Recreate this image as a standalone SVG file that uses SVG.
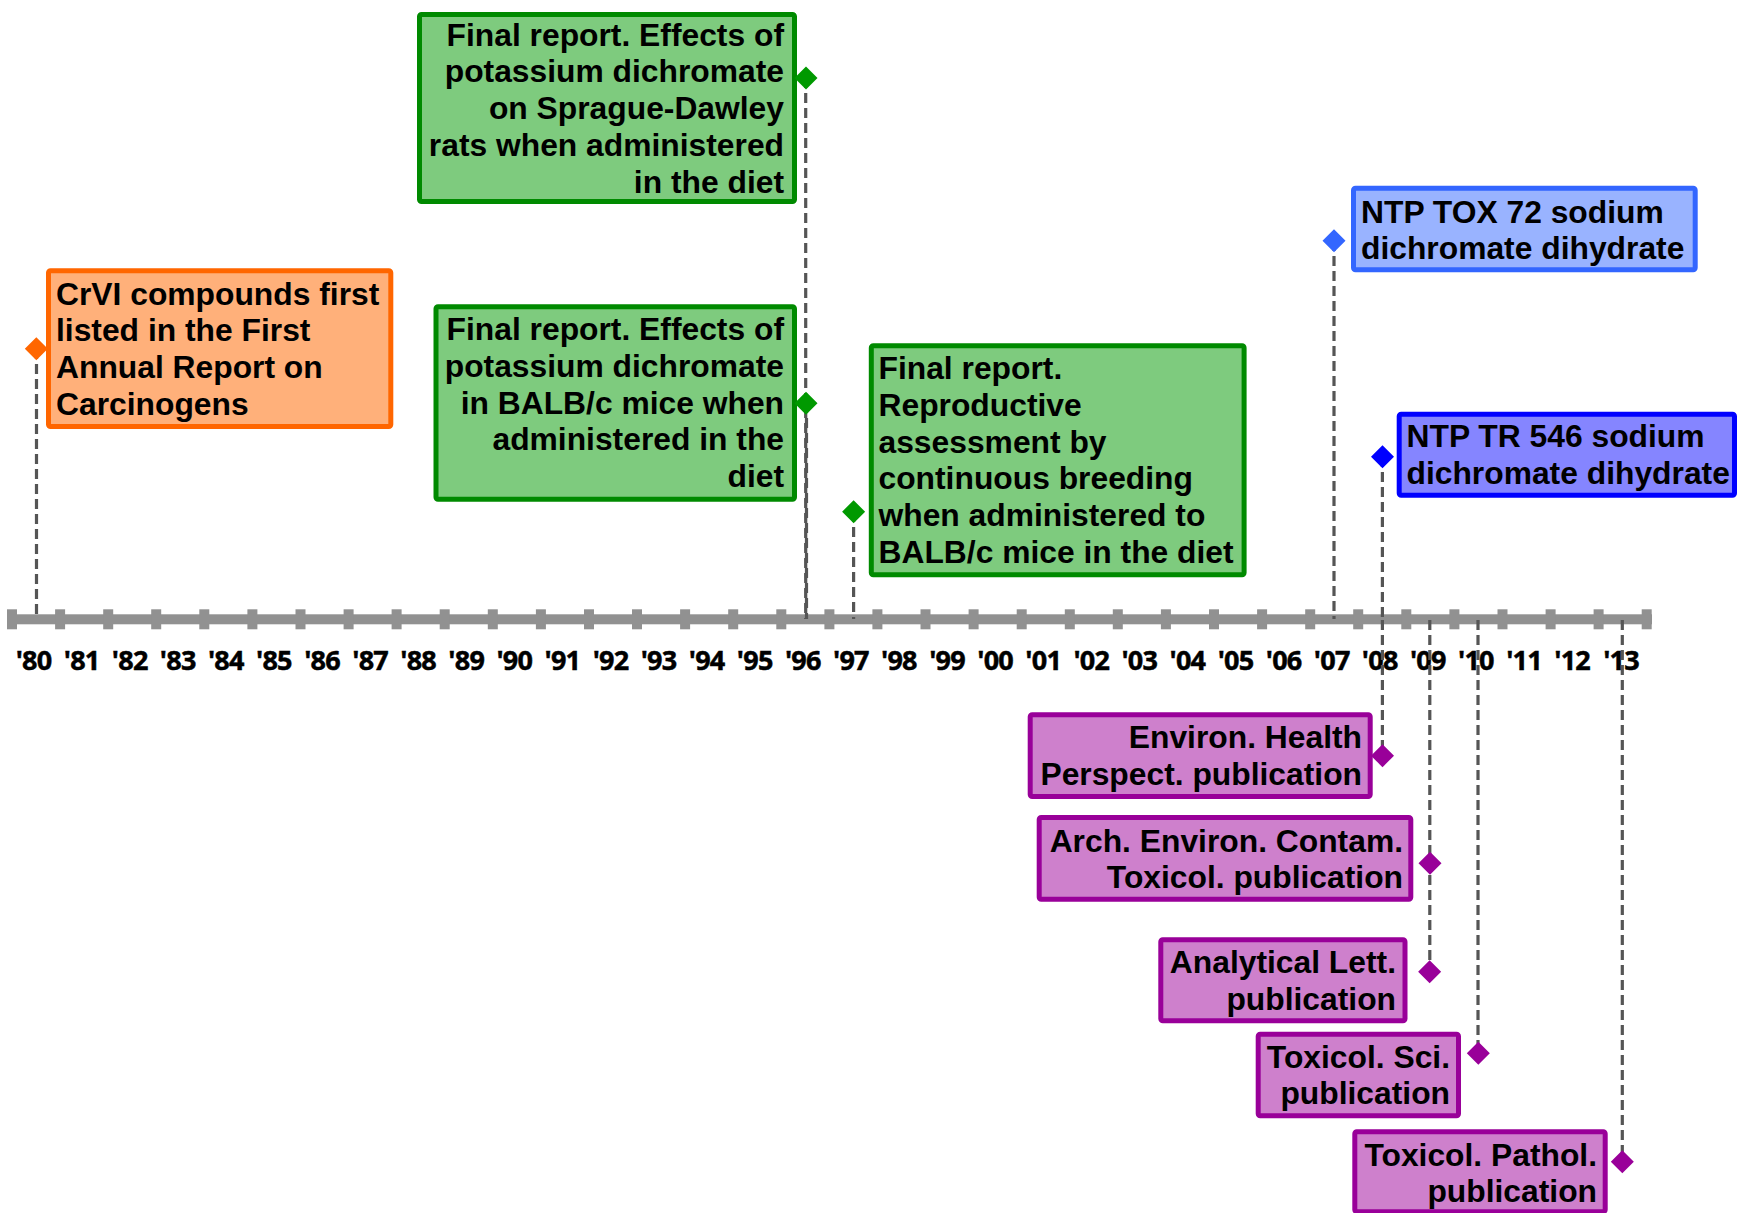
<svg xmlns="http://www.w3.org/2000/svg" width="1738" height="1213" viewBox="0 0 1738 1213">
<style>
.t{font-family:"Liberation Sans",Arial,sans-serif;font-weight:bold;font-size:31.8px;fill:#000}
.e{text-anchor:end}
.yr{font-family:"Open Sans","Liberation Sans",sans-serif;font-weight:bold;font-size:27px;letter-spacing:-0.8px;fill:#000;stroke:#000;stroke-width:0.5;text-anchor:middle}
.box{stroke-width:5}
.or{fill:#FFB07A;stroke:#FF6600}
.gr{fill:#7ECB7E;stroke:#008A00}
.b1{fill:#99B3FF;stroke:#3366FF}
.b2{fill:#8585FF;stroke:#0000FF}
.pu{fill:#CE80CC;stroke:#990099}
.dash{stroke:#555;stroke-width:3.2;stroke-dasharray:10 5;fill:none}
.tk{fill:#919191}
</style>
<defs>
<path id="dm" d="M0,-11.5 L11.5,0 L0,11.5 L-11.5,0Z"/>
</defs>
<rect width="1738" height="1213" fill="#fff"/>
<g id="axis">
<rect class="tk" x="7" y="614.3" width="1645" height="10"/>
<rect class="tk" x="7" y="609.3" width="10" height="20"/><rect class="tk" x="55.1" y="609.3" width="10" height="20"/><rect class="tk" x="103.2" y="609.3" width="10" height="20"/><rect class="tk" x="151.2" y="609.3" width="10" height="20"/><rect class="tk" x="199.3" y="609.3" width="10" height="20"/><rect class="tk" x="247.4" y="609.3" width="10" height="20"/><rect class="tk" x="295.5" y="609.3" width="10" height="20"/><rect class="tk" x="343.6" y="609.3" width="10" height="20"/><rect class="tk" x="391.6" y="609.3" width="10" height="20"/><rect class="tk" x="439.7" y="609.3" width="10" height="20"/><rect class="tk" x="487.8" y="609.3" width="10" height="20"/><rect class="tk" x="535.9" y="609.3" width="10" height="20"/><rect class="tk" x="584" y="609.3" width="10" height="20"/><rect class="tk" x="632" y="609.3" width="10" height="20"/><rect class="tk" x="680.1" y="609.3" width="10" height="20"/><rect class="tk" x="728.2" y="609.3" width="10" height="20"/><rect class="tk" x="776.3" y="609.3" width="10" height="20"/><rect class="tk" x="824.4" y="609.3" width="10" height="20"/><rect class="tk" x="872.4" y="609.3" width="10" height="20"/><rect class="tk" x="920.5" y="609.3" width="10" height="20"/><rect class="tk" x="968.6" y="609.3" width="10" height="20"/><rect class="tk" x="1016.7" y="609.3" width="10" height="20"/><rect class="tk" x="1064.8" y="609.3" width="10" height="20"/><rect class="tk" x="1112.8" y="609.3" width="10" height="20"/><rect class="tk" x="1160.9" y="609.3" width="10" height="20"/><rect class="tk" x="1209" y="609.3" width="10" height="20"/><rect class="tk" x="1257.1" y="609.3" width="10" height="20"/><rect class="tk" x="1305.2" y="609.3" width="10" height="20"/><rect class="tk" x="1353.2" y="609.3" width="10" height="20"/><rect class="tk" x="1401.3" y="609.3" width="10" height="20"/><rect class="tk" x="1449.4" y="609.3" width="10" height="20"/><rect class="tk" x="1497.5" y="609.3" width="10" height="20"/><rect class="tk" x="1545.6" y="609.3" width="10" height="20"/><rect class="tk" x="1593.6" y="609.3" width="10" height="20"/><rect class="tk" x="1641.7" y="609.3" width="10" height="20"/>
</g>
<g id="years">
<text class="yr" x="33.5" y="669.5">'80</text><text class="yr" x="81.6" y="669.5">'81</text><text class="yr" x="129.7" y="669.5">'82</text><text class="yr" x="177.7" y="669.5">'83</text><text class="yr" x="225.8" y="669.5">'84</text><text class="yr" x="273.9" y="669.5">'85</text><text class="yr" x="322" y="669.5">'86</text><text class="yr" x="370.1" y="669.5">'87</text><text class="yr" x="418.1" y="669.5">'88</text><text class="yr" x="466.2" y="669.5">'89</text><text class="yr" x="514.3" y="669.5">'90</text><text class="yr" x="562.4" y="669.5">'91</text><text class="yr" x="610.5" y="669.5">'92</text><text class="yr" x="658.5" y="669.5">'93</text><text class="yr" x="706.6" y="669.5">'94</text><text class="yr" x="754.7" y="669.5">'95</text><text class="yr" x="802.8" y="669.5">'96</text><text class="yr" x="850.9" y="669.5">'97</text><text class="yr" x="898.9" y="669.5">'98</text><text class="yr" x="947" y="669.5">'99</text><text class="yr" x="995.1" y="669.5">'00</text><text class="yr" x="1043.2" y="669.5">'01</text><text class="yr" x="1091.3" y="669.5">'02</text><text class="yr" x="1139.3" y="669.5">'03</text><text class="yr" x="1187.4" y="669.5">'04</text><text class="yr" x="1235.5" y="669.5">'05</text><text class="yr" x="1283.6" y="669.5">'06</text><text class="yr" x="1331.7" y="669.5">'07</text><text class="yr" x="1379.7" y="669.5">'08</text><text class="yr" x="1427.8" y="669.5">'09</text><text class="yr" x="1475.9" y="669.5">'10</text><text class="yr" x="1524" y="669.5">'11</text><text class="yr" x="1572.1" y="669.5">'12</text><text class="yr" x="1621" y="669.5">'13</text>
</g>
<g id="connectors">
<line class="dash" x1="36.5" y1="349" x2="36.5" y2="619"/>
<line class="dash" x1="805.7" y1="78" x2="805.7" y2="619"/>
<line class="dash" x1="806.5" y1="403" x2="806.5" y2="619"/>
<line class="dash" x1="853.6" y1="512" x2="853.6" y2="619"/>
<line class="dash" x1="1334" y1="241" x2="1334" y2="619"/>
<line class="dash" x1="1382.4" y1="457" x2="1382.4" y2="619"/>
<line class="dash" x1="1382.4" y1="620" x2="1382.4" y2="756"/>
<line class="dash" x1="1429.8" y1="620" x2="1429.8" y2="972"/>
<line class="dash" x1="1478" y1="620" x2="1478" y2="1053"/>
<line class="dash" x1="1622.3" y1="620" x2="1622.3" y2="1162"/>
</g>
<g id="n1980">
<rect class="box or" x="48.5" y="270.8" width="342.3" height="155.7" rx="2"/>
<use href="#dm" x="36.3" y="348.7" fill="#FF6600"/>
<text class="t"><tspan x="56" y="304.5">CrVI compounds first</tspan><tspan x="56" y="341.3">listed in the First</tspan><tspan x="56" y="378.1">Annual Report on</tspan><tspan x="56" y="414.9">Carcinogens</tspan></text>
</g>
<g id="n1996a">
<rect class="box gr" x="419.5" y="14.5" width="375" height="187" rx="2"/>
<use href="#dm" x="806" y="78" fill="#009900"/>
<text class="t e"><tspan x="784" y="45.7">Final report. Effects of</tspan><tspan x="784" y="82.4">potassium dichromate</tspan><tspan x="784" y="119.1">on Sprague-Dawley</tspan><tspan x="784" y="155.8">rats when administered</tspan><tspan x="784" y="192.5">in the diet</tspan></text>
</g>
<g id="n1996b">
<rect class="box gr" x="436" y="306.8" width="358.5" height="192.4" rx="2"/>
<use href="#dm" x="806" y="403.3" fill="#009900"/>
<text class="t e"><tspan x="784" y="340.2">Final report. Effects of</tspan><tspan x="784" y="376.9">potassium dichromate</tspan><tspan x="784" y="413.6">in BALB/c mice when</tspan><tspan x="784" y="450.3">administered in the</tspan><tspan x="784" y="487">diet</tspan></text>
</g>
<g id="n1997">
<rect class="box gr" x="871.3" y="345.8" width="372.8" height="229" rx="2"/>
<use href="#dm" x="853.6" y="511.7" fill="#009900"/>
<text class="t"><tspan x="878.5" y="379.3">Final report.</tspan><tspan x="878.5" y="416">Reproductive</tspan><tspan x="878.5" y="452.7">assessment by</tspan><tspan x="878.5" y="489.4">continuous breeding</tspan><tspan x="878.5" y="526.1">when administered to</tspan><tspan x="878.5" y="562.8">BALB/c mice in the diet</tspan></text>
</g>
<g id="n2007">
<rect class="box b1" x="1353.5" y="188.2" width="341.7" height="81.6" rx="2"/>
<use href="#dm" x="1334" y="240.7" fill="#3366FF"/>
<text class="t"><tspan x="1361" y="222.5">NTP TOX 72 sodium</tspan><tspan x="1361" y="259.2">dichromate dihydrate</tspan></text>
</g>
<g id="n2008a">
<rect class="box b2" x="1399.2" y="414.2" width="335.3" height="81" rx="2"/>
<use href="#dm" x="1382.5" y="456.7" fill="#0000FF"/>
<text class="t"><tspan x="1406.5" y="447.3">NTP TR 546 sodium</tspan><tspan x="1406.5" y="484">dichromate dihydrate</tspan></text>
</g>
<g id="n2008b">
<rect class="box pu" x="1030.2" y="714.8" width="340" height="81.7" rx="2"/>
<use href="#dm" x="1382.5" y="755.7" fill="#990099"/>
<text class="t e"><tspan x="1362" y="748.3">Environ. Health</tspan><tspan x="1362" y="784.5">Perspect. publication</tspan></text>
</g>
<g id="n2009a">
<rect class="box pu" x="1039.2" y="817.5" width="371.6" height="81.7" rx="2"/>
<use href="#dm" x="1430" y="863.3" fill="#990099"/>
<text class="t e"><tspan x="1403" y="851.7">Arch. Environ. Contam.</tspan><tspan x="1403" y="888.3">Toxicol. publication</tspan></text>
</g>
<g id="n2009b">
<rect class="box pu" x="1160.8" y="939.8" width="244.2" height="81" rx="2"/>
<use href="#dm" x="1429.6" y="971.7" fill="#990099"/>
<text class="t e"><tspan x="1396" y="973.3">Analytical Lett.</tspan><tspan x="1396" y="1009.5">publication</tspan></text>
</g>
<g id="n2010">
<rect class="box pu" x="1258.2" y="1034.2" width="200.3" height="81.6" rx="2"/>
<use href="#dm" x="1478.3" y="1053.3" fill="#990099"/>
<text class="t e"><tspan x="1450" y="1067.7">Toxicol. Sci.</tspan><tspan x="1450" y="1103.8">publication</tspan></text>
</g>
<g id="n2013">
<rect class="box pu" x="1354.8" y="1131.8" width="250.4" height="80" rx="2"/>
<use href="#dm" x="1622.3" y="1161.7" fill="#990099"/>
<text class="t e"><tspan x="1597" y="1165.7">Toxicol. Pathol.</tspan><tspan x="1597" y="1201.7">publication</tspan></text>
</g>
</svg>
